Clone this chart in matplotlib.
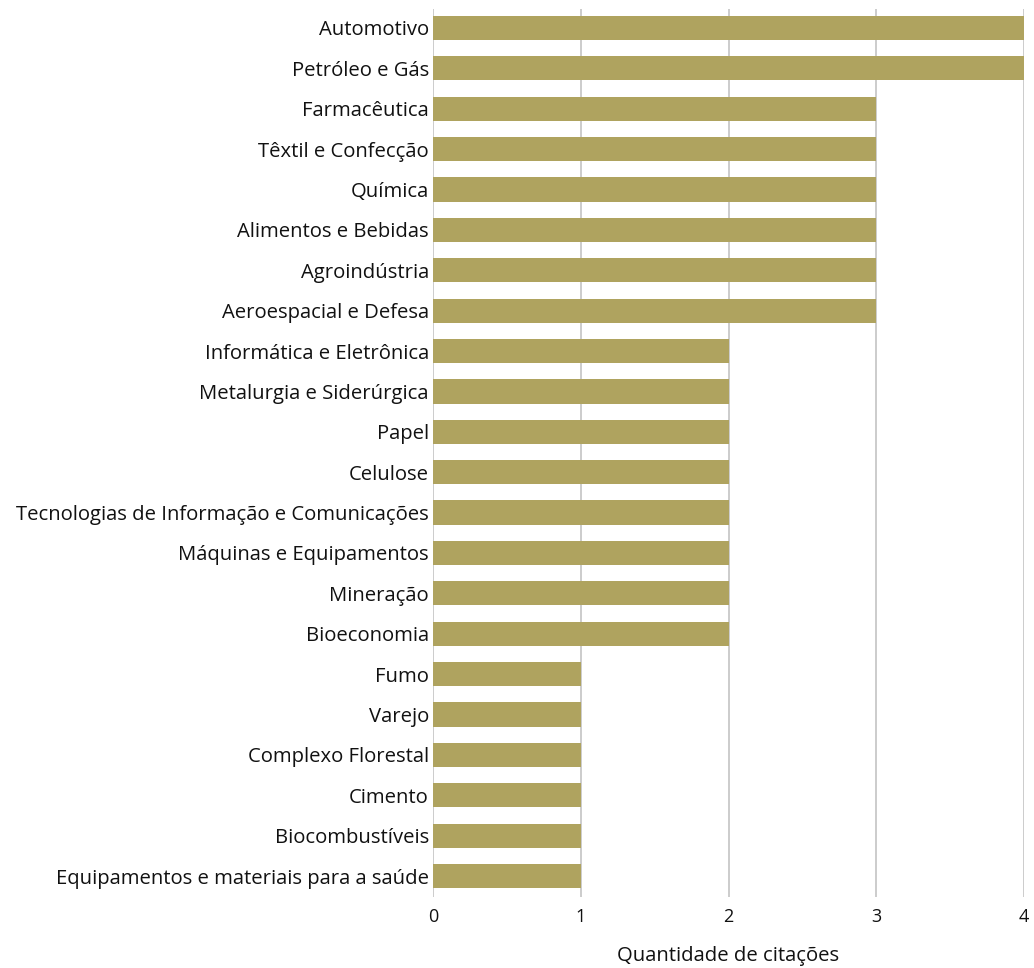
import matplotlib.pyplot as plt

setores = ['Automotivo', 'Petróleo e Gás', 'Farmacêutica', 'Têxtil e Confecção',
           'Química', 'Alimentos e Bebidas', 'Agroindústria', 'Aeroespacial e Defesa',
           'Informática e Eletrônica', 'Metalurgia e Siderúrgica', 'Papel', 'Celulose',
           'Tecnologias de Informação e Comunicações', 'Máquinas e Equipamentos',
           'Mineração', 'Bioeconomia', 'Fumo', 'Varejo', 'Complexo Florestal',
           'Cimento', 'Biocombustíveis', 'Equipamentos e materiais para a saúde']
citacoes = [4, 4, 3, 3, 3, 3, 3, 3, 2, 2, 2, 2, 2, 2, 2, 2, 1, 1, 1, 1, 1, 1]
ticks = [0, 1, 2, 3, 4]

plt.rcParams['font.family'] = ['Open Sans', 'DejaVu Sans']

fig = plt.figure(figsize=(10.34, 9.68), dpi=100)
ax = fig.add_axes([0.4188, 0.0733, 0.5715, 0.9174])

pos = list(range(len(setores)))
ax.barh(pos, citacoes, height=0.6, color='#AFA35F', zorder=2)
ax.set_yticks(pos)
ax.set_yticklabels(setores, fontsize=14.6, color='#111111')
ax.set_ylim(21.52, -0.47)
ax.set_xlim(0, 4)
ax.set_xticks(ticks)
ax.set_xticklabels([str(t) for t in ticks], fontsize=13, color='#111111')
ax.grid(axis='x', color='#c4c4c4', linewidth=1.2, zorder=0)
for s in ax.spines.values():
    s.set_visible(False)
ax.tick_params(length=0, pad=3)
ax.tick_params(axis='x', pad=8)
ax.set_xlabel('Quantidade de citações', fontsize=14.6, labelpad=14, color='#111111')

fig.savefig('out.png', dpi=100)
